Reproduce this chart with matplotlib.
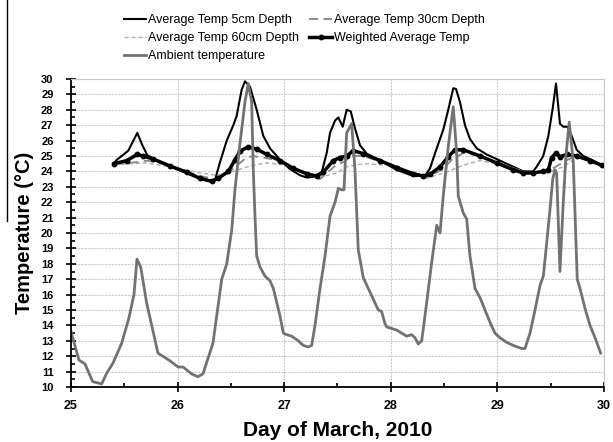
"""
Soil temperature at several depths vs ambient temperature, 25-30 March 2010.
"""
import matplotlib
matplotlib.use("Agg")
import matplotlib.pyplot as plt
from matplotlib.lines import Line2D
from matplotlib.ticker import MultipleLocator

plt.rcParams["font.family"] = ["Liberation Sans", "DejaVu Sans"]

# ---------------------------------------------------------------------------
# DATA
# ---------------------------------------------------------------------------
ambient_day = [25.000, 25.075, 25.131, 25.204, 25.288, 25.335, 25.394, 25.476, 25.544,
               25.591, 25.619, 25.654, 25.710, 25.816, 25.929, 26.004, 26.051, 26.132,
               26.191, 26.238, 26.332, 26.414, 26.461, 26.508, 26.538, 26.585, 26.632,
               26.663, 26.695, 26.710, 26.726, 26.742, 26.773, 26.820, 26.867, 26.898,
               26.930, 26.961, 26.992, 27.023, 27.070, 27.132, 27.179, 27.226, 27.258,
               27.289, 27.336, 27.383, 27.430, 27.477, 27.508, 27.539, 27.561, 27.586,
               27.633, 27.664, 27.695, 27.711, 27.742, 27.789, 27.836, 27.883, 27.914,
               27.946, 27.962, 28.008, 28.055, 28.102, 28.149, 28.196, 28.227, 28.258,
               28.290, 28.337, 28.384, 28.431, 28.462, 28.492, 28.539, 28.586, 28.618,
               28.633, 28.680, 28.712, 28.743, 28.790, 28.837, 28.884, 28.931, 28.977,
               29.024, 29.087, 29.149, 29.228, 29.259, 29.306, 29.353, 29.400, 29.431,
               29.463, 29.493, 29.519, 29.540, 29.556, 29.587, 29.618, 29.643, 29.674,
               29.712, 29.749, 29.775, 29.822, 29.869, 29.916, 29.969]
ambient_temp = [13.6, 11.75, 11.5, 10.35, 10.2, 10.9, 11.55, 12.85, 14.5,
                16.0, 18.3, 17.8, 15.45, 12.2, 11.7, 11.3, 11.3, 10.85,
                10.67, 10.85, 12.85, 17.0, 18.0, 20.2, 22.8, 25.8, 28.5,
                29.7, 28.5, 24.1, 21.1, 18.5, 17.8, 17.2, 16.9, 16.4,
                15.5, 14.6, 13.5, 13.4, 13.3, 13.0, 12.7, 12.6, 12.7,
                14.0, 16.4, 18.5, 21.1, 22.0, 22.9, 22.8, 22.8, 26.5,
                27.1, 24.1, 18.9, 18.3, 17.1, 16.4, 15.7, 15.0, 14.9,
                14.1, 13.9, 13.8, 13.7, 13.5, 13.3, 13.4, 13.2, 12.8,
                13.0, 15.5, 18.1, 20.5, 20.0, 22.4, 25.6, 28.2, 25.2,
                22.4, 21.3, 20.9, 18.5, 16.4, 15.8, 15.0, 14.2, 13.5,
                13.2, 12.9, 12.7, 12.5, 12.5, 13.5, 15.0, 16.6, 17.2,
                19.4, 21.5, 23.5, 24.1, 23.9, 17.5, 22.0, 25.0, 27.2,
                24.6, 17.0, 16.4, 15.1, 14.0, 13.2, 12.2]

d5_day = [25.413, 25.429, 25.476, 25.538, 25.622, 25.663, 25.716, 25.835, 25.992,
          26.147, 26.273, 26.351, 26.398, 26.461, 26.523, 26.554, 26.601, 26.632,
          26.679, 26.742, 26.804, 26.867, 26.961, 27.054, 27.148, 27.211, 27.273,
          27.352, 27.399, 27.430, 27.477, 27.508, 27.549, 27.586, 27.624, 27.664,
          27.711, 27.774, 27.899, 28.055, 28.211, 28.321, 28.368, 28.431, 28.492,
          28.539, 28.586, 28.612, 28.649, 28.696, 28.743, 28.806, 28.899, 29.024,
          29.149, 29.243, 29.336, 29.368, 29.430, 29.478, 29.519, 29.550, 29.587,
          29.618, 29.656, 29.697, 29.744, 29.806, 29.900, 29.978]
d5_temp = [24.6, 24.75, 25.0, 25.35, 26.5, 25.8, 25.05, 24.6, 24.15,
           23.7, 23.4, 23.45, 24.6, 26.0, 27.0, 27.6, 29.3, 29.85,
           29.5, 28.0, 26.3, 25.5, 24.75, 24.15, 23.75, 23.6, 23.65,
           23.95, 25.2, 26.5, 27.3, 27.5, 26.9, 28.0, 27.9, 26.8,
           25.7, 25.15, 24.7, 24.1, 23.7, 23.7, 24.2, 25.5, 26.7,
           28.0, 29.4, 29.35, 28.5, 27.0, 26.1, 25.5, 25.1, 24.7,
           24.3, 24.0, 24.0, 24.3, 25.0, 26.3, 28.1, 29.7, 27.1,
           26.9, 26.9, 26.3, 25.4, 25.0, 24.7, 24.4]

d30_day = [25.413, 25.616, 25.710, 25.835, 26.023, 26.210, 26.351, 26.445, 26.523,
           26.648, 26.710, 26.836, 26.961, 27.148, 27.336, 27.492, 27.555, 27.633,
           27.742, 27.899, 28.086, 28.336, 28.492, 28.570, 28.680, 28.837, 29.024,
           29.259, 29.463, 29.618, 29.744, 29.869, 29.978]
d30_temp = [24.45, 24.6, 24.7, 24.55, 24.1, 23.7, 23.5, 23.7, 24.2,
            24.9, 25.0, 24.85, 24.7, 24.0, 23.5, 24.45, 24.6, 25.0,
            25.0, 24.65, 24.1, 23.6, 24.15, 24.75, 25.2, 25.0, 24.5,
            23.95, 23.95, 24.6, 25.05, 24.7, 24.4]

d60_day = [25.413, 25.710, 25.929, 26.210, 26.367, 26.523, 26.679, 26.836, 27.023,
           27.242, 27.383, 27.492, 27.586, 27.742, 27.992, 28.180, 28.336, 28.523,
           28.680, 28.837, 29.024, 29.259, 29.463, 29.618, 29.744, 29.869, 29.978]
d60_temp = [24.45, 24.55, 24.3, 23.9, 23.75, 24.0, 24.35, 24.55, 24.4,
            23.8, 23.7, 23.9, 24.3, 24.5, 24.4, 23.9, 23.55, 23.95,
            24.4, 24.7, 24.45, 23.95, 23.9, 24.3, 24.9, 24.7, 24.4]

wavg_day = [25.403, 25.523, 25.622, 25.678, 25.772, 25.929, 26.085, 26.210, 26.320,
            26.382, 26.476, 26.538, 26.585, 26.663, 26.742, 26.836, 26.961, 27.085,
            27.211, 27.305, 27.367, 27.460, 27.523, 27.586, 27.648, 27.742, 27.899,
            28.055, 28.211, 28.305, 28.368, 28.462, 28.539, 28.602, 28.680, 28.837,
            28.993, 29.149, 29.243, 29.336, 29.430, 29.478, 29.509, 29.550, 29.587,
            29.650, 29.744, 29.869, 29.978]
wavg_temp = [24.5, 24.7, 25.1, 25.0, 24.8, 24.35, 23.95, 23.55, 23.35,
             23.55, 24.0, 24.75, 25.3, 25.6, 25.45, 25.1, 24.7, 24.2,
             23.85, 23.7, 23.95, 24.7, 24.9, 25.0, 25.35, 25.15, 24.7,
             24.25, 23.85, 23.7, 23.8, 24.3, 24.95, 25.4, 25.4, 25.0,
             24.55, 24.1, 23.9, 23.9, 24.0, 24.1, 24.9, 25.2, 24.95,
             25.1, 25.0, 24.7, 24.4]

x_ticks = [25, 26, 27, 28, 29, 30]
y_ticks = list(range(10, 31))

# ---------------------------------------------------------------------------
# FIGURE
# ---------------------------------------------------------------------------
fig = plt.figure(figsize=(6.13, 4.42), dpi=100)
ax = fig.add_axes([0.1158, 0.1244, 0.8695, 0.6969])

l5, = ax.plot(d5_day, d5_temp, color="black", lw=1.5, label="Average Temp 5cm Depth")
l30, = ax.plot(d30_day, d30_temp, color="#858585", lw=1.3, ls=(0, (5, 3)),
               label="Average Temp 30cm Depth")
l60, = ax.plot(d60_day, d60_temp, color="#ababab", lw=1.0, ls=(0, (3, 2)),
               label="Average Temp 60cm Depth")
lw_, = ax.plot(wavg_day, wavg_temp, color="black", lw=2.5, marker="o", ms=3.2,
               label="Weighted Average Temp")
lamb, = ax.plot(ambient_day, ambient_temp, color="#727272", lw=2.0,
                label="Ambient temperature")

ax.set_xlim(25, 30)
ax.set_ylim(10, 30)
ax.set_xticks(x_ticks)
ax.set_yticks(y_ticks)
ax.xaxis.set_minor_locator(MultipleLocator(0.5))
ax.yaxis.set_minor_locator(MultipleLocator(0.5))
ax.tick_params(axis="x", which="major", direction="inout", length=7, width=1.2,
               labelsize=9, pad=6)
ax.tick_params(axis="x", which="minor", direction="in", length=3, width=1.2)
ax.tick_params(axis="y", which="major", direction="inout", length=7, width=1.2,
               labelsize=8, pad=9)
ax.tick_params(axis="y", which="minor", direction="in", length=3, width=1.2)
for lab in ax.get_xticklabels() + ax.get_yticklabels():
    lab.set_fontweight("bold")

ax.grid(True, which="major", color="#cacaca", lw=0.8, ls=(0, (2, 1)))
ax.set_axisbelow(True)
for side in ("top", "right"):
    ax.spines[side].set_color("#c8c8c8")
for side in ("left", "bottom"):
    ax.spines[side].set_linewidth(1.3)

ax.set_xlabel("Day of March, 2010", fontsize=15, fontweight="bold", labelpad=6)
ax.set_ylabel("Temperature (°C)", fontsize=14.5, fontweight="bold", labelpad=5)

# legend above the plot: column 1 = 5cm, 60cm, ambient ; column 2 = 30cm, weighted
fig.legend(handles=[l5, l60, lamb, l30, lw_], loc="upper left",
           bbox_to_anchor=(0.19, 0.985), ncol=2, frameon=False, fontsize=9,
           handlelength=1.8, handletextpad=0.15, columnspacing=0.8,
           labelspacing=0.47, borderaxespad=0.2)

# stray border line at the left edge of the cropped page
fig.add_artist(Line2D([0.012, 0.012], [1.0, 0.50], color="black", lw=1.0))

fig.savefig("out.png", dpi=100)
